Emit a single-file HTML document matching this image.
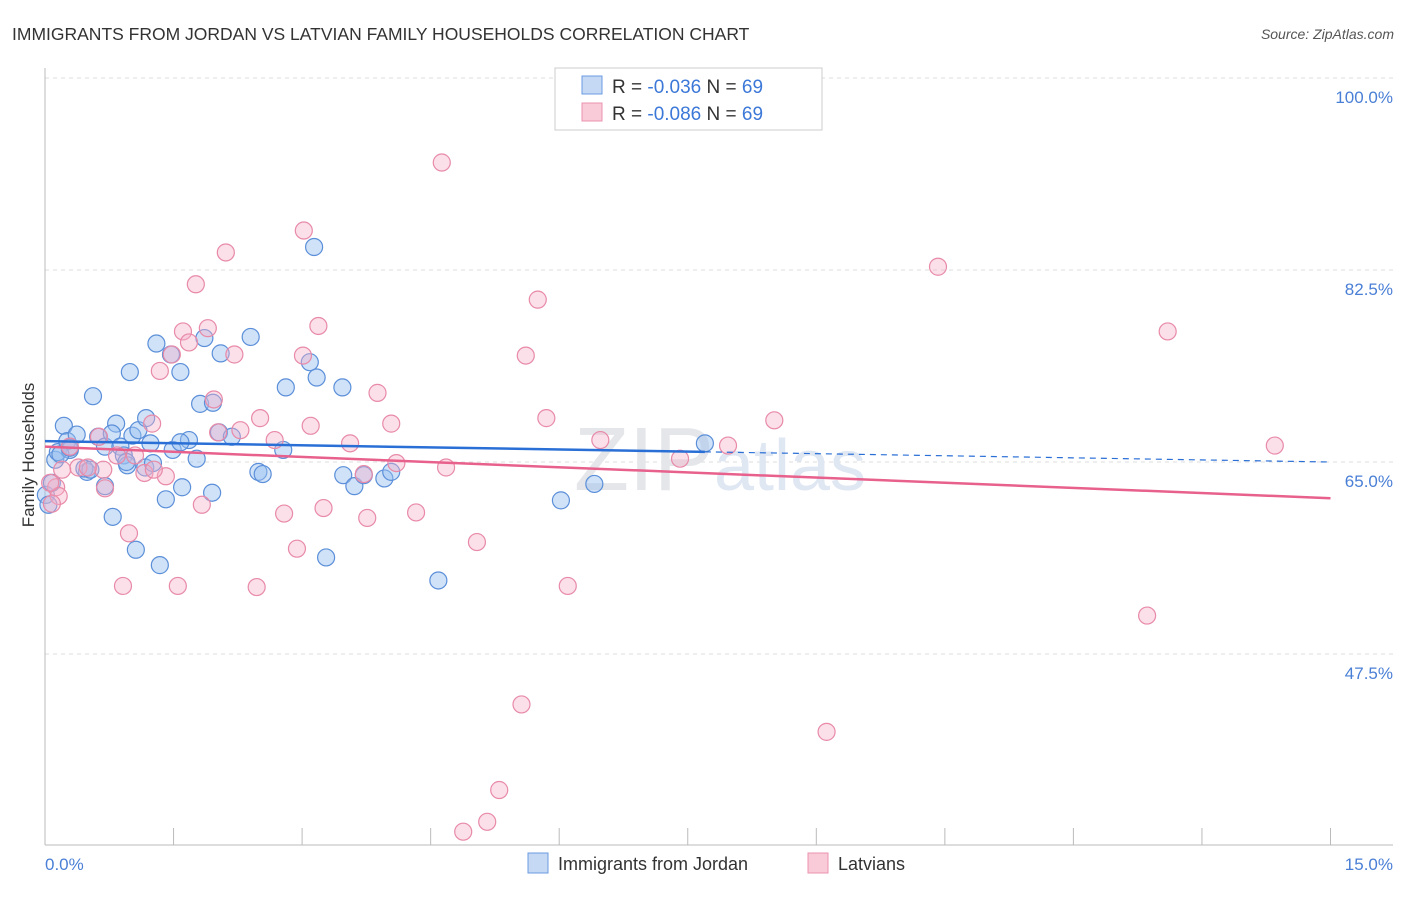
<!DOCTYPE html>
<html><head><meta charset="utf-8"><style>
body{margin:0;background:#fff;font-family:"Liberation Sans",sans-serif;}
svg text{font-family:"Liberation Sans",sans-serif;}
</style></head><body>
<svg id="chart" width="1406" height="892">
<text x="12" y="40" font-size="17.5" fill="#333">IMMIGRANTS FROM JORDAN VS LATVIAN FAMILY HOUSEHOLDS CORRELATION CHART</text>
<text x="1394" y="39" font-size="14" fill="#555" font-style="italic" text-anchor="end">Source: ZipAtlas.com</text>
<text transform="translate(34,455) rotate(-90)" font-size="17" fill="#333" text-anchor="middle">Family Households</text>
<g id="grid"></g>
<text x="720" y="490" font-size="90" fill="#e4e6ea" text-anchor="middle" font-family="Liberation Serif">ZIP<tspan fill="#dfe7f3" font-family="Liberation Sans" font-size="72">atlas</tspan></text>
<g id="points"></g>
<g id="lines"></g>
<g>
<rect x="555" y="68" width="267" height="62" fill="#fff" stroke="#ccc"/>
<rect x="582" y="76" width="20" height="18" fill="#c5d9f5" stroke="#6a9be0"/>
<rect x="582" y="103" width="20" height="18" fill="#f9cbd9" stroke="#ec93b0"/>
<text x="612" y="93" font-size="19" fill="#333">R = <tspan fill="#3c78d8">-0.036</tspan>   N = <tspan fill="#3c78d8">69</tspan></text>
<text x="612" y="120" font-size="19" fill="#333">R = <tspan fill="#3c78d8">-0.086</tspan>   N = <tspan fill="#3c78d8">69</tspan></text>
</g>
<g>
<rect x="528" y="853" width="20" height="20" fill="#c5d9f5" stroke="#6a9be0"/>
<text x="558" y="870" font-size="18" fill="#333">Immigrants from Jordan</text>
<rect x="808" y="853" width="20" height="20" fill="#f9cbd9" stroke="#ec93b0"/>
<text x="838" y="870" font-size="18" fill="#333">Latvians</text>
</g>
</svg>
<script>
const yTicks=[100,82.5,65,47.5];
const xTickLabels=["0.0%","15.0%"];
const blueX=[.22,.12,.15,.26,.37,.29,.49,.46,.56,.62,.70,.83,.78,.88,.92,.96,.99,1.02,1.09,1.17,1.23,1.26,1.30,1.18,.79,1.06,1.34,1.41,1.47,1.49,1.58,1.60,1.68,1.77,1.81,1.86,1.95,1.96,2.03,2.05,2.18,2.40,2.49,2.54,2.78,2.81,3.14,3.09,3.17,3.28,3.47,3.48,3.61,3.72,3.96,4.04,4.59,6.02,6.41,7.70,.01,.04,.08,.18,.29,.70,.95,1.58,.53];
const blueY=[68.3,65.2,65.9,66.9,67.5,66.1,64.1,64.4,71.0,67.3,66.4,68.5,67.6,66.4,65.6,64.7,73.2,67.4,67.9,64.5,66.7,64.9,75.8,69.0,60.0,57.0,55.6,61.6,74.8,66.1,73.2,62.7,67.0,65.3,70.3,76.3,62.2,70.4,67.7,74.9,67.3,76.4,64.1,63.9,66.1,71.8,84.6,74.1,72.7,56.3,71.8,63.8,62.8,63.8,63.5,64.1,54.2,61.5,63.0,66.7,62.0,61.1,63.1,65.7,66.3,62.8,65.0,66.8,64.3];
const pinkX=[4.63,3.02,2.11,1.76,10.42,5.75,13.10,3.19,1.61,1.90,1.68,1.48,2.21,3.01,5.61,1.34,3.88,1.97,1.25,2.51,4.04,3.10,5.85,8.51,2.28,2.02,2.68,3.56,6.48,7.97,14.35,.63,.29,.84,1.05,7.41,4.10,4.68,.68,1.16,1.41,3.72,.39,.20,.13,.16,.08,1.83,2.79,3.25,3.76,4.33,.98,2.94,5.04,.91,1.55,2.47,6.10,12.86,5.56,9.12,5.30,5.16,4.88,.70,.50,1.27,.06];
const pinkY=[92.3,86.1,84.1,81.2,82.8,79.8,76.9,77.4,76.9,77.2,75.9,74.8,74.8,74.7,74.7,73.3,71.3,70.7,68.5,69.0,68.5,68.3,69.0,68.8,67.9,67.7,67.0,66.7,67.0,66.5,66.5,67.3,66.4,65.6,65.6,65.3,64.9,64.5,64.3,64.0,63.7,63.9,64.5,64.3,62.7,61.9,61.2,61.1,60.3,60.8,59.9,60.4,58.5,57.1,57.7,53.7,53.7,53.6,53.7,51.0,42.9,40.4,35.1,32.2,31.3,62.6,64.5,64.3,63.1];
const blueTrend=[66.9,65.0];
const pinkTrend=[66.4,61.7];
const NS="http://www.w3.org/2000/svg";
const sx=v=>45+v*85.7;
const sy=v=>462-(v-65)*10.97;
function mk(tag,attrs,parent){const e=document.createElementNS(NS,tag);for(const k in attrs)e.setAttribute(k,attrs[k]);parent.appendChild(e);return e;}
const grid=document.getElementById('grid');
yTicks.forEach(t=>{
 const l=mk('line',{x1:45,x2:1393,y1:sy(t),y2:sy(t),stroke:'#ddd','stroke-dasharray':'4,4'},grid);
 
 
 const tx=mk('text',{x:1393,y:sy(t)+25,'font-size':17,fill:'#4a7fd6','text-anchor':'end'},grid);
 tx.textContent=t.toFixed(1)+'%';
 
 
});
const ax=mk('line',{x1:45,x2:45,y1:68,y2:845,stroke:'#bbb'},grid);


const bx=mk('line',{x1:45,x2:1393,y1:845,y2:845,stroke:'#bbb'},grid);


for(let i=0;i<=10;i++){
 const t=mk('line',{x1:sx(i*1.5),x2:sx(i*1.5),y1:828,y2:845,stroke:'#bbb'},grid);
 
 
}
const xl0=mk('text',{x:45,y:870,'font-size':17,fill:'#4a7fd6'},grid);
xl0.textContent=xTickLabels[0];


const xl1=mk('text',{x:1393,y:870,'font-size':17,fill:'#4a7fd6','text-anchor':'end'},grid);
xl1.textContent=xTickLabels[1];


const pts=document.getElementById('points');
blueX.forEach((x,i)=>{
 const c=mk('circle',{cx:sx(x),cy:sy(blueY[i]),r:8.5,fill:'rgba(150,190,240,0.45)',stroke:'#5b8fd9','stroke-width':1.2},pts);
 
 
});
pinkX.forEach((x,i)=>{
 const c=mk('circle',{cx:sx(x),cy:sy(pinkY[i]),r:8.5,fill:'rgba(245,175,200,0.4)',stroke:'#e88aa8','stroke-width':1.2},pts);
 
 
});
const lines=document.getElementById('lines');
const bAt=v=>blueTrend[0]+(blueTrend[1]-blueTrend[0])*v/15;
const l1=mk('line',{x1:sx(0),y1:sy(bAt(0)),x2:sx(7.7),y2:sy(bAt(7.7)),stroke:'#2a6fd6','stroke-width':2.5},lines);


const l2=mk('line',{x1:sx(7.7),y1:sy(bAt(7.7)),x2:sx(15),y2:sy(bAt(15)),stroke:'#2a6fd6','stroke-width':1.2,'stroke-dasharray':'6,5'},lines);


const l3=mk('line',{x1:sx(0),y1:sy(pinkTrend[0]),x2:sx(15),y2:sy(pinkTrend[1]),stroke:'#e8608c','stroke-width':2.5},lines);


</script>
</body></html>
